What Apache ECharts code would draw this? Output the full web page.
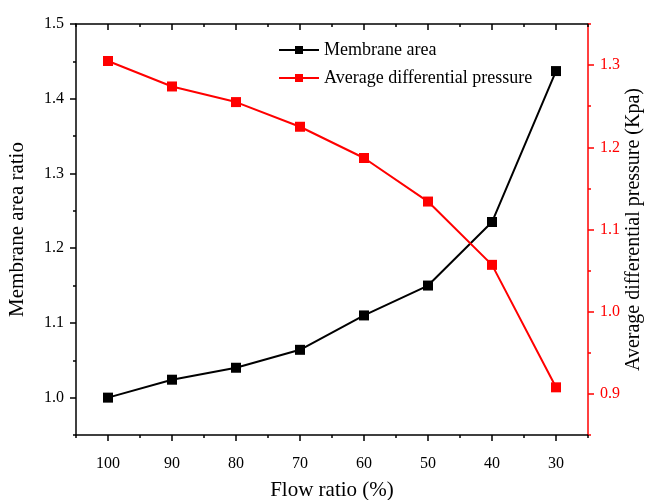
<!DOCTYPE html>
<html>
<head>
<meta charset="utf-8">
<script src="https://cdn.jsdelivr.net/npm/echarts@6/dist/echarts.min.js"></script>
<style>html,body{margin:0;padding:0;background:#fff}#c{width:652px;height:500px}</style>
</head>
<body>
<div id="c"></div>
<script>
var flowRatio = [100, 90, 80, 70, 60, 50, 40, 30];
var membraneArea = [1.000, 1.024, 1.040, 1.064, 1.110, 1.150, 1.235, 1.437];
var avgPressure = [1.305, 1.274, 1.255, 1.225, 1.187, 1.134, 1.057, 0.908];
var xTickCats = ['105','100','95','90','85','80','75','70','65','60','55','50','45','40','35','30','25'];
var yLeftTickCats = ['0.95','1.0','1.05','1.1','1.15','1.2','1.25','1.3','1.35','1.4','1.45','1.5'];
var yRightTickCats = ['0.85','0.9','0.95','1.0','1.05','1.1','1.15','1.2','1.25','1.3','1.35'];

var FONT = 'Liberation Serif';
var chart = echarts.init(document.getElementById('c'), null, {renderer: 'canvas'});

function pair(xs, ys) { return xs.map(function (x, i) { return [x, ys[i]]; }); }
function isTenth(v) { return Math.abs(v * 10 - Math.round(v * 10)) < 1e-6; }
function majorOdd(i) { return i % 2 === 1; }

var black = '#000000', red = '#ff0000';

chart.setOption({
  animation: false,
  backgroundColor: '#ffffff',
  grid: {left: 76, right: 64, top: 24, bottom: 65, containLabel: false, outerBoundsMode: 'none'},
  legend: {
    left: 278, top: 41, orient: 'vertical', itemGap: 10, padding: 0,
    itemWidth: 40, itemHeight: 10,
    textStyle: {fontFamily: FONT, fontSize: 18, color: '#000'},
    data: ['Membrane area', 'Average differential pressure']
  },
  xAxis: [
    {type: 'value', position: 'bottom', inverse: true, min: 25, max: 105, interval: 5,
     name: 'Flow ratio (%)', nameLocation: 'middle', nameGap: 45, nameMoveOverlap: false,
     nameTextStyle: {fontFamily: FONT, fontSize: 21, color: '#000'},
     axisLine: {show: true, lineStyle: {color: black, width: 1.5}},
     axisTick: {show: true, length: 3, lineStyle: {color: black, width: 1.5}},
     axisLabel: {fontFamily: FONT, fontSize: 16, color: '#000', margin: 21,
       formatter: function (v) { return v % 10 === 0 ? String(v) : ''; }},
     splitLine: {show: false}},
    {type: 'category', position: 'bottom', data: xTickCats, boundaryGap: false,
     axisLine: {show: false},
     axisTick: {show: true, length: 6, interval: majorOdd, lineStyle: {color: black, width: 1.5}},
     axisLabel: {show: false}, splitLine: {show: false}},
    {type: 'value', position: 'top', inverse: true, min: 25, max: 105, interval: 5,
     axisLine: {show: true, lineStyle: {color: black, width: 1.5}},
     axisTick: {show: true, inside: true, length: 3, lineStyle: {color: black, width: 1.5}},
     axisLabel: {show: false}, splitLine: {show: false}},
    {type: 'category', position: 'top', data: xTickCats, boundaryGap: false,
     axisLine: {show: false},
     axisTick: {show: true, inside: true, length: 6, interval: majorOdd, lineStyle: {color: black, width: 1.5}},
     axisLabel: {show: false}, splitLine: {show: false}}
  ],
  yAxis: [
    {type: 'value', position: 'left', min: 0.95, max: 1.5, interval: 0.05,
     name: 'Membrane area ratio', nameLocation: 'middle', nameGap: 48, nameMoveOverlap: false,
     nameTextStyle: {fontFamily: FONT, fontSize: 21, color: '#000'},
     axisLine: {show: true, lineStyle: {color: black, width: 1.5}},
     axisTick: {show: true, length: 3, lineStyle: {color: black, width: 1.5}},
     axisLabel: {fontFamily: FONT, fontSize: 16, color: '#000', margin: 12,
       formatter: function (v) { return isTenth(v) ? v.toFixed(1) : ''; }},
     splitLine: {show: false}},
    {type: 'category', position: 'left', data: yLeftTickCats, boundaryGap: false,
     axisLine: {show: false},
     axisTick: {show: true, length: 6, interval: majorOdd, lineStyle: {color: black, width: 1.5}},
     axisLabel: {show: false}, splitLine: {show: false}},
    {type: 'value', position: 'right', min: 0.85, max: 1.35, interval: 0.05,
     name: 'Average differential pressure (Kpa)', nameLocation: 'middle', nameGap: 36, nameRotate: 90,
     nameMoveOverlap: false,
     nameTextStyle: {fontFamily: FONT, fontSize: 20, color: '#000'},
     axisLine: {show: true, lineStyle: {color: red, width: 1.5}},
     axisTick: {show: true, length: 3, lineStyle: {color: red, width: 1.5}},
     axisLabel: {fontFamily: FONT, fontSize: 16, color: red, margin: 12,
       formatter: function (v) { return isTenth(v) ? v.toFixed(1) : ''; }},
     splitLine: {show: false}},
    {type: 'category', position: 'right', data: yRightTickCats, boundaryGap: false,
     axisLine: {show: false},
     axisTick: {show: true, length: 6, interval: majorOdd, lineStyle: {color: red, width: 1.5}},
     axisLabel: {show: false}, splitLine: {show: false}}
  ],
  series: [
    {name: 'Membrane area', type: 'line', xAxisIndex: 0, yAxisIndex: 0,
     data: pair(flowRatio, membraneArea),
     symbol: 'rect', symbolSize: 10, showAllSymbol: true,
     lineStyle: {color: black, width: 2}, itemStyle: {color: black}},
    {name: 'Average differential pressure', type: 'line', xAxisIndex: 0, yAxisIndex: 2,
     data: pair(flowRatio, avgPressure),
     symbol: 'rect', symbolSize: 10, showAllSymbol: true,
     lineStyle: {color: red, width: 2}, itemStyle: {color: red}}
  ]
});
</script>
</body>
</html>
